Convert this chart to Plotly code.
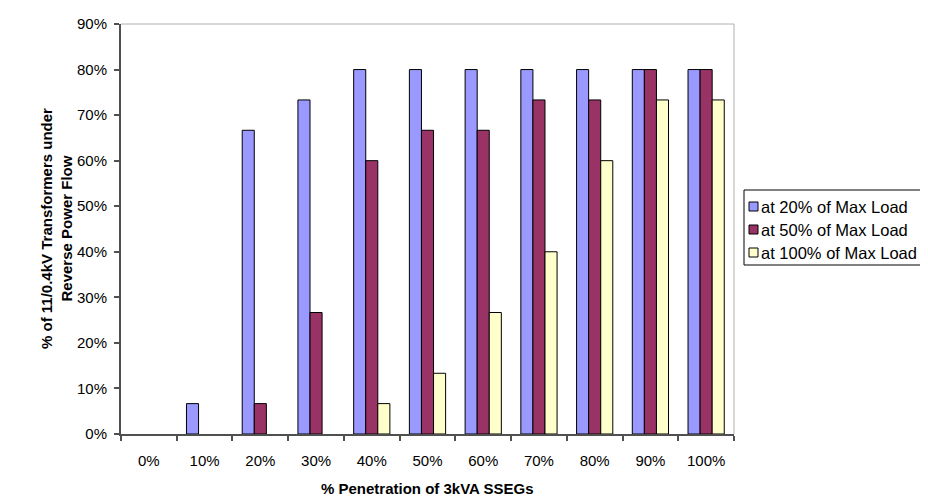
import plotly.graph_objects as go

categories = ["0%", "10%", "20%", "30%", "40%", "50%", "60%", "70%", "80%", "90%", "100%"]
load_20 = [0.0, 0.0667, 0.6667, 0.7333, 0.80, 0.80, 0.80, 0.80, 0.80, 0.80, 0.80]
load_50 = [0.0, 0.0, 0.0667, 0.2667, 0.60, 0.6667, 0.6667, 0.7333, 0.7333, 0.80, 0.80]
load_100 = [0.0, 0.0, 0.0, 0.0, 0.0667, 0.1333, 0.2667, 0.40, 0.60, 0.7333, 0.7333]
series_names = ["at 20% of Max Load", "at 50% of Max Load", "at 100% of Max Load"]
colors = ["#9999FF", "#993366", "#FFFFCC"]

FONT = "Liberation Sans, Arial, sans-serif"
W, H = 928, 496
L, R, T, B = 113, 202, 16, 70
PW, PH = W - L - R, H - T - B


def px(x):
    return (x - L) / PW


def py(y):
    return (H - B - y) / PH


fig = go.Figure()
for name, vals, col in zip(series_names, [load_20, load_50, load_100], colors):
    fig.add_trace(go.Bar(
        x=categories, y=vals, name=name, showlegend=False,
        marker=dict(color=col,
                    line=dict(color="black", width=[0 if v == 0 else 1 for v in vals])),
    ))

# custom legend box (clipped at right edge like the reference)
shapes = [
    dict(type="line", xref="paper", yref="paper", x0=0, x1=1, y0=1, y1=1,
         line=dict(color="#b0b0b0", width=1)),
    dict(type="line", xref="paper", yref="paper", x0=1, x1=1, y0=0, y1=1,
         line=dict(color="#b0b0b0", width=1)),
    dict(type="rect", xref="paper", yref="paper", x0=px(736), x1=px(940),
         y0=py(257), y1=py(182), line=dict(color="black", width=1),
         fillcolor="white"),
]
annotations = []
row_y = [199, 222, 245]
for name, col, yy in zip(series_names, colors, row_y):
    shapes.append(dict(type="rect", xref="paper", yref="paper",
                       x0=px(741), x1=px(750), y0=py(yy + 4), y1=py(yy - 5),
                       line=dict(color="black", width=1), fillcolor=col))
    annotations.append(dict(text=name, xref="paper", yref="paper",
                            x=px(751), y=py(yy), xanchor="left", yanchor="middle",
                            showarrow=False,
                            font=dict(size=16.5, family=FONT, color="black")))

annotations += [
    dict(text="<b>% Penetration of 3kVA SSEGs</b>", xref="paper", yref="paper",
         x=0.5, y=py(480), xanchor="center", yanchor="middle",
         showarrow=False, font=dict(size=15, family=FONT, color="black")),
    dict(text="<b>% of 11/0.4kV Transformers under<br>Reverse Power Flow</b>",
         xref="paper", yref="paper",
         x=px(48), y=0.5, xanchor="center", yanchor="middle",
         textangle=-90, showarrow=False,
         font=dict(size=15, family=FONT, color="black")),
]

fig.update_layout(
    width=W, height=H,
    margin=dict(l=L, r=R, t=T, b=B, autoexpand=False),
    paper_bgcolor="white", plot_bgcolor="white",
    barmode="group", bargap=0.35, bargroupgap=0,
    font=dict(family=FONT, size=15, color="black"),
    showlegend=False,
    xaxis=dict(
        type="category", showline=True, linecolor="#505050", linewidth=2,
        ticks="outside", tickson="boundaries", ticklen=5, tickcolor="#505050",
        tickwidth=1.5,
        showgrid=False, zeroline=False, ticklabelstandoff=12,
        tickfont=dict(size=15, color="black"),
        automargin=False,
    ),
    yaxis=dict(
        range=[0, 0.9], dtick=0.1, tickformat=".0%",
        showline=True, linecolor="#505050", linewidth=2,
        ticks="outside", ticklen=5, tickcolor="#505050", tickwidth=1.5,
        showgrid=False, zeroline=False, ticklabelstandoff=4,
        tickfont=dict(size=15, color="black"),
        automargin=False,
    ),
    shapes=shapes,
    annotations=annotations,
)

fig.write_html("out.html")
